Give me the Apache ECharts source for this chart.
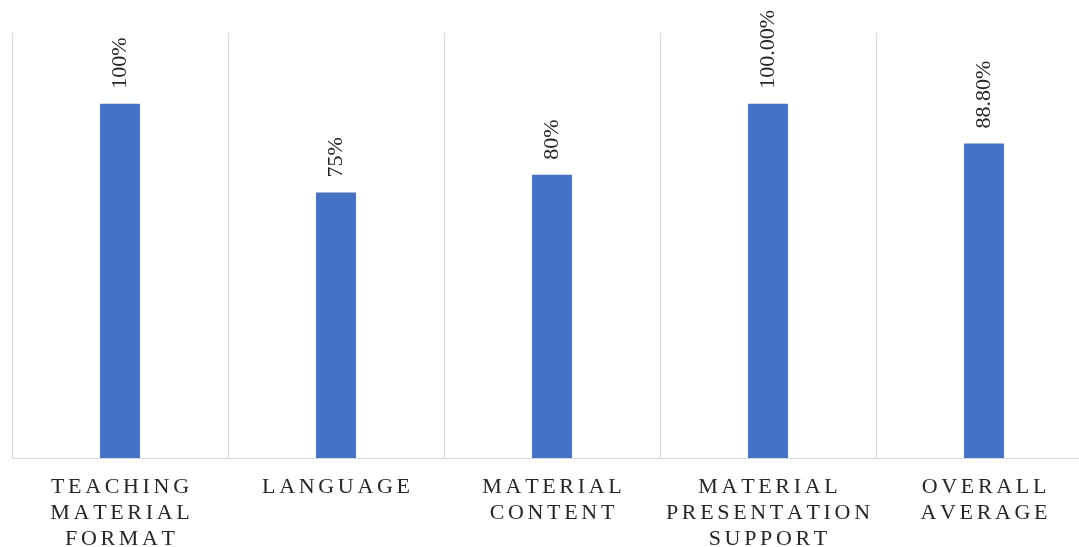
<!DOCTYPE html>
<html>
<head>
<meta charset="utf-8">
<script src="https://cdn.jsdelivr.net/npm/echarts@6/dist/echarts.min.js"></script>
<style>html,body{margin:0;padding:0;background:#fff}#c{width:1079px;height:547px}</style>
</head>
<body>
<div id="c"></div>
<script>
const categories = ['TEACHING\nMATERIAL\nFORMAT', 'LANGUAGE', 'MATERIAL\nCONTENT', 'MATERIAL\nPRESENTATION\nSUPPORT', 'OVERALL\nAVERAGE'];
const values = [100, 75, 80, 100, 88.8];
const valueLabels = ['100%', '75%', '80%', '100.00%', '88.80%'];

function spaced(s) {
  return s.split('\n').map(l => l.split('').join('\u2006')).join('\n');
}

const chart = echarts.init(document.getElementById('c'), null, {renderer: 'canvas'});
chart.setOption({
  animation: false,
  grid: {left: 12, top: 33, right: -13, bottom: 89, containLabel: false, outerBoundsMode: 'none'},
  xAxis: {
    type: 'category',
    data: categories,
    axisLine: {show: true, lineStyle: {color: '#d9d9d9', width: 1}},
    axisTick: {show: false},
    splitLine: {show: true, lineStyle: {color: '#d9d9d9', width: 1}},
    axisLabel: {
      interval: 0,
      margin: 16,
      fontFamily: 'Liberation Serif',
      fontSize: 22,
      lineHeight: 26,
      color: '#262626',
      formatter: v => spaced(v)
    }
  },
  yAxis: {
    type: 'value', min: 0, max: 120, show: false,
    splitLine: {show: false}
  },
  series: [{
    type: 'bar',
    data: values,
    barWidth: 40,
    itemStyle: {color: '#4472c4'},
    label: {
      show: true,
      position: 'top',
      rotate: 90,
      align: 'left',
      verticalAlign: 'middle',
      distance: 15,
      fontFamily: 'Liberation Serif',
      fontSize: 22,
      color: '#262626',
      formatter: p => valueLabels[p.dataIndex]
    }
  }]
});
</script>
</body>
</html>
